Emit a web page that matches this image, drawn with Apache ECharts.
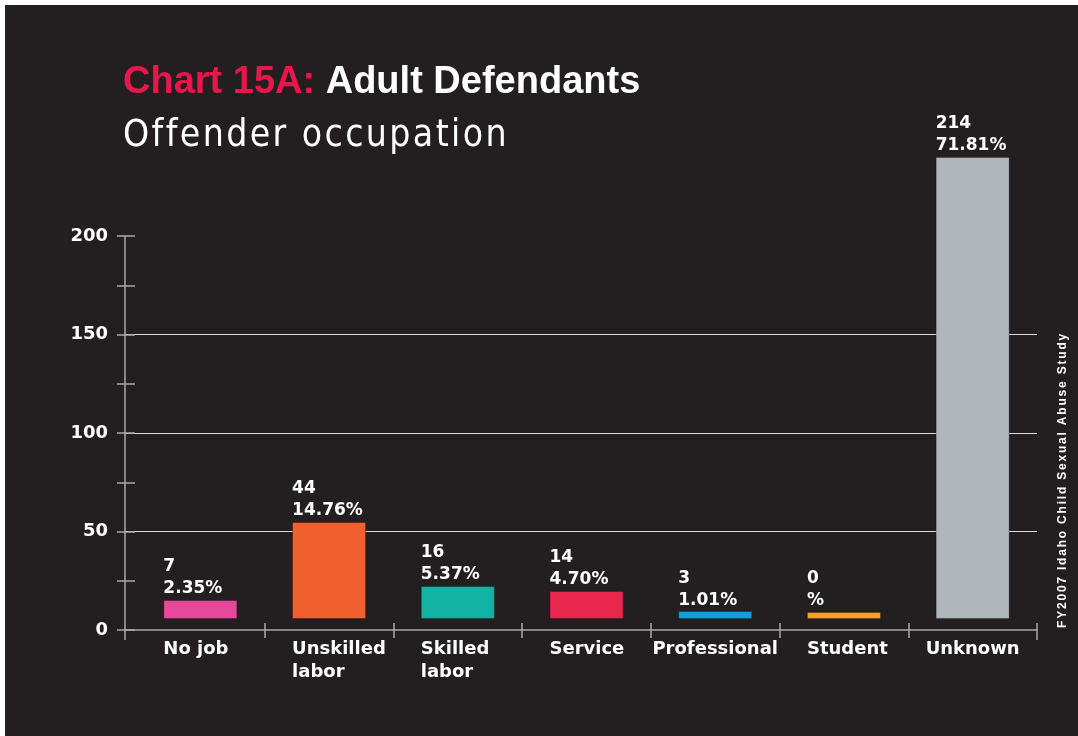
<!DOCTYPE html>
<html>
<head>
<meta charset="utf-8">
<title>Chart 15A: Adult Defendants</title>
<script src="https://cdn.jsdelivr.net/npm/echarts@6/dist/echarts.min.js"></script>
<style>
html, body { margin: 0; padding: 0; background: #fff; }
#chart { position: absolute; left: 5px; top: 5px; width: 1073px; height: 731px; }
</style>
</head>
<body>
<div id="chart"></div>
<script>
// occupation categories and values
var categories = ['No job', 'Unskilled\nlabor', 'Skilled\nlabor', 'Service', 'Professional', 'Student', 'Unknown'];
var counts = [7, 44, 16, 14, 3, 0, 214];
var percents = ['2.35', '14.76', '5.37', '4.70', '1.01', '', '71.81'];
// the printed bars do not start at 0 - bottoms and tops as drawn (axis units)
var barBottoms = [5.6, 5.6, 5.6, 5.6, 5.6, 5.6, 5.6];
var barTops = [15.2, 54.8, 22.3, 19.8, 9.6, 9.1, 240.1];
var barColors = ['#e6489a', '#f0612f', '#13b2a2', '#e9264e', '#0ea2dd', '#f5a12a', '#b1b6bd'];
var yMin = 0, yMax = 200, yStep = 50, yMinorStep = 25;

var titleMain = 'Chart 15A:';
var titleRest = 'Adult Defendants';
var subTitle = 'Offender occupation';
var sideNote = 'FY2007 Idaho Child Sexual Abuse Study';

// labels wider than their bar sit centred, the rest start at the bar's left edge
var centredLabels = ['Professional', 'Unknown'];

var BOLD = "'DejaVu Sans', sans-serif";
var AXIS = '#a9a9a9';

// wide letter spacing: one rich token per character
function spaced(text, key) {
	return text.split('').map(function(c) {
		return '{' + key + '|' + c + '}';
	}).join('');
}

function skipFirst(idx) {
	return idx > 0;
}

var myChart = echarts.init(document.getElementById('chart'));

var visible = barTops.map(function(t, i) {
	return {
		value: +(t - barBottoms[i]).toFixed(2),
		itemStyle: {
			color: barColors[i],
			borderColor: 'rgba(0,0,0,0.25)',
			borderWidth: 1
		}
	};
});

var catLabel = { color: '#ffffff', fontSize: 18, fontWeight: 'bold', fontFamily: BOLD, lineHeight: 23 };

myChart.setOption({
	animation: false,
	backgroundColor: '#231f20',
	title: [{
		text: '{a|' + titleMain + '} {b|' + titleRest + '}',
		left: 118,
		top: 59,
		padding: 0,
		textStyle: {
			fontSize: 38,
			fontWeight: 'bold',
			fontFamily: "'Liberation Sans', Arial, sans-serif",
			lineHeight: 38,
			rich: {
				a: { color: '#e8174b', fontSize: 38, fontWeight: 'bold', fontFamily: "'Liberation Sans', Arial, sans-serif", lineHeight: 38 },
				b: { color: '#ffffff', fontSize: 38, fontWeight: 'bold', fontFamily: "'Liberation Sans', Arial, sans-serif", lineHeight: 38 }
			}
		}
	}, {
		text: spaced(subTitle, 'c'),
		left: 118,
		top: 113,
		padding: 0,
		textStyle: {
			rich: {
				c: {
					color: '#ffffff',
					fontSize: 37,
					lineHeight: 37,
					fontWeight: 'normal',
					fontFamily: "'Liberation Sans Narrow', 'DejaVu Sans Condensed', 'Liberation Sans', sans-serif",
					padding: [0, 2.4, 0, 0]
				}
			}
		}
	}],
	graphic: [{
		type: 'text',
		x: 1058,
		y: 475,
		rotation: Math.PI / 2,
		style: {
			text: spaced(sideNote, 'd'),
			align: 'center',
			verticalAlign: 'middle',
			fill: '#ffffff',
			rich: {
				d: {
					color: '#ffffff',
					fontSize: 12,
					fontWeight: 'bold',
					fontFamily: "'Liberation Sans', Arial, sans-serif",
					padding: [0, 1.8, 0, 0]
				}
			}
		}
	}],
	grid: [
		{ left: 120, right: 41, top: 231, bottom: 106 },
		{ left: 131, right: 41, top: 231, bottom: 106 }
	],
	xAxis: [{
		gridIndex: 0,
		type: 'value',
		position: 'bottom',
		min: 0,
		max: 1,
		interval: 1,
		axisLine: { show: true, lineStyle: { color: AXIS, width: 1.5 } },
		axisTick: { show: true, length: 10, lineStyle: { color: AXIS, width: 1.5 } },
		axisLabel: { show: false },
		splitLine: { show: false }
	}, {
		gridIndex: 1,
		type: 'category',
		position: 'bottom',
		data: categories,
		axisLine: { show: false },
		axisTick: { show: true, length: 8, interval: skipFirst, lineStyle: { color: AXIS, width: 1.5 } },
		axisLabel: {
			interval: 0,
			margin: 8,
			align: 'center',
			width: 74,
			overflow: 'none',
			formatter: function(v) {
				var key = centredLabels.indexOf(v) >= 0 ? 'c' : 'l';
				return v.split('\n').map(function(s) { return '{' + key + '|' + s + '}'; }).join('\n');
			},
			rich: {
				l: Object.assign({ align: 'left' }, catLabel),
				c: Object.assign({ align: 'center' }, catLabel)
			}
		}
	}, {
		gridIndex: 1,
		type: 'category',
		position: 'bottom',
		data: categories,
		axisLine: { show: false },
		axisTick: { show: true, inside: true, length: 7, interval: skipFirst, lineStyle: { color: AXIS, width: 1.5 } },
		axisLabel: { show: false }
	}],
	yAxis: [{
		gridIndex: 0,
		type: 'value',
		position: 'left',
		min: yMin,
		max: yMax,
		interval: yStep,
		axisLine: { show: true, lineStyle: { color: AXIS, width: 1.5 } },
		axisTick: { show: true, inside: true, length: 10, lineStyle: { color: AXIS, width: 1.5 } },
		minorTick: { show: true, splitNumber: yStep / yMinorStep, length: 10, lineStyle: { color: AXIS, width: 1.5 } },
		splitLine: { show: true, showMinLine: false, showMaxLine: false, lineStyle: { color: '#dedede', width: 1 } },
		axisLabel: {
			margin: 17,
			color: '#ffffff',
			fontSize: 18,
			fontWeight: 'bold',
			fontFamily: BOLD,
			padding: [0, 0, 12, 0]
		}
	}, {
		gridIndex: 0,
		type: 'value',
		position: 'left',
		min: yMin,
		max: yMax,
		interval: yMinorStep,
		axisLine: { show: false },
		axisTick: { show: true, length: 8, lineStyle: { color: AXIS, width: 1.5 } },
		axisLabel: { show: false },
		splitLine: { show: false }
	}, {
		gridIndex: 1,
		type: 'value',
		min: yMin,
		max: yMax,
		show: false
	}],
	series: [{
		type: 'bar',
		name: 'base',
		stack: 'occ',
		xAxisIndex: 1,
		yAxisIndex: 2,
		barWidth: 74,
		silent: true,
		itemStyle: { color: 'rgba(0,0,0,0)' },
		data: barBottoms
	}, {
		type: 'bar',
		name: 'Offenders',
		stack: 'occ',
		xAxisIndex: 1,
		yAxisIndex: 2,
		barWidth: 74,
		clip: false,
		data: visible,
		label: {
			show: true,
			position: [0, 0],
			align: 'left',
			verticalAlign: 'bottom',
			color: '#ffffff',
			fontSize: 17,
			fontWeight: 'bold',
			fontFamily: BOLD,
			lineHeight: 22,
			formatter: function(p) {
				return counts[p.dataIndex] + '\n' + percents[p.dataIndex] + '%';
			}
		}
	}]
});
</script>
</body>
</html>
